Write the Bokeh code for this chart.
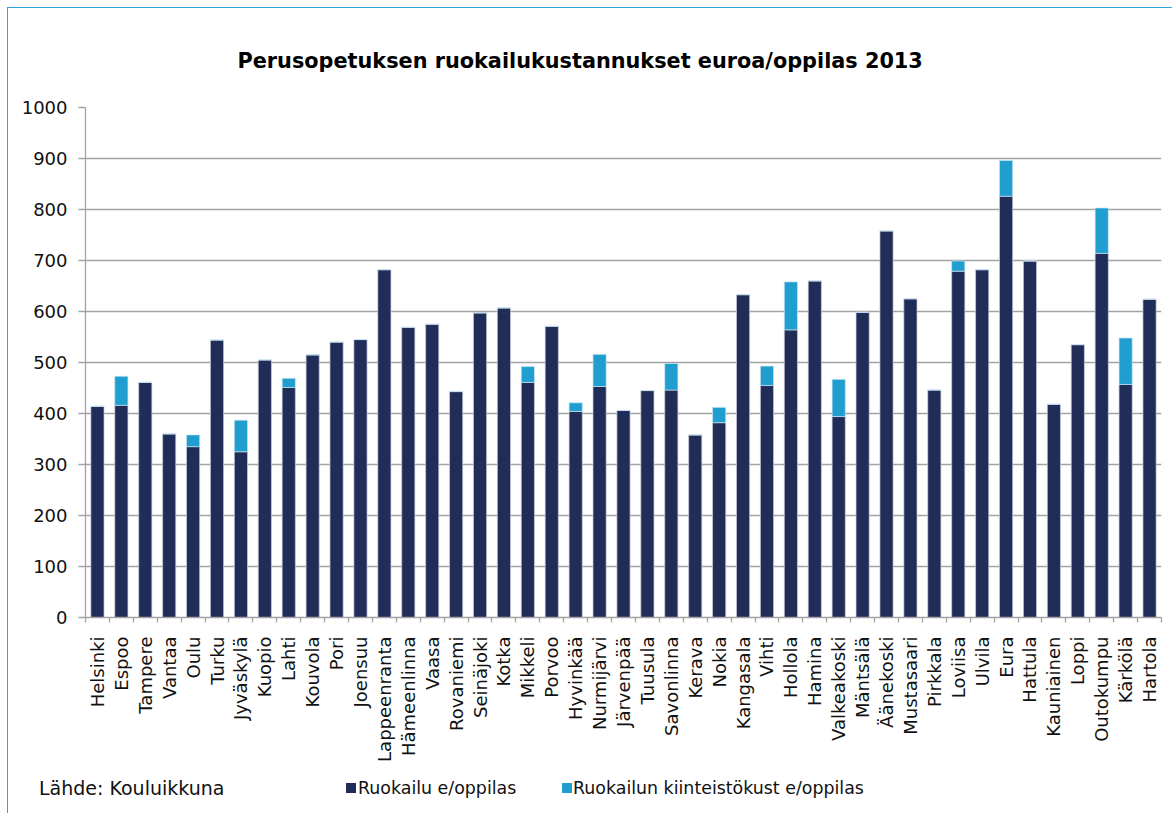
import math
from bokeh.plotting import figure
from bokeh.layouts import column, row
from bokeh.models import (ColumnDataSource, Range1d, FixedTicker, CustomJSTickFormatter,
                          Title, Spacer, Div)
from bokeh.embed import file_html
from bokeh.resources import INLINE

cities = ["Helsinki", "Espoo", "Tampere", "Vantaa", "Oulu", "Turku", "Jyväskylä", "Kuopio",
          "Lahti", "Kouvola", "Pori", "Joensuu", "Lappeenranta", "Hämeenlinna", "Vaasa",
          "Rovaniemi", "Seinäjoki", "Kotka", "Mikkeli", "Porvoo", "Hyvinkää", "Nurmijärvi",
          "Järvenpää", "Tuusula", "Savonlinna", "Kerava", "Nokia", "Kangasala", "Vihti",
          "Hollola", "Hamina", "Valkeakoski", "Mäntsälä", "Äänekoski", "Mustasaari",
          "Pirkkala", "Loviisa", "Ulvila", "Eura", "Hattula", "Kauniainen", "Loppi",
          "Outokumpu", "Kärkölä", "Hartola"]

# Ruokailu e/oppilas
ruokailu = [414, 416, 461, 360, 335, 544, 325, 505, 451, 515, 540, 545, 682, 569, 575,
            443, 597, 607, 461, 571, 404, 453, 406, 445, 446, 358, 382, 633, 455,
            564, 660, 394, 598, 758, 625, 446, 679, 682, 826, 699, 418, 535, 714, 457, 624]

# Ruokailun kiinteistökust e/oppilas
kiinteisto = [0, 57, 0, 0, 23, 0, 62, 0, 18, 0, 0, 0, 0, 0, 0,
              0, 1, 0, 31, 0, 17, 63, 0, 0, 52, 0, 30, 0, 38,
              94, 0, 73, 1, 0, 0, 0, 20, 0, 70, 0, 0, 0, 89, 91, 0]

y_ticks = [0, 100, 200, 300, 400, 500, 600, 700, 800, 900, 1000]

title_text = "Perusopetuksen ruokailukustannukset euroa/oppilas 2013"
source_text = "Lähde: Kouluikkuna"
series_names = ["Ruokailu e/oppilas", "Ruokailun kiinteistökust e/oppilas"]

DARK = "#212d59"
LIGHT = "#1f9ecf"
GRID = "#a3a3a3"
FRAME = "#2aa6e0"
FONT = "DejaVu Sans"

n = len(cities)
xs = [i + 0.5 for i in range(n)]
totals = [a + b for a, b in zip(ruokailu, kiinteisto)]
src = ColumnDataSource(dict(x=xs, dark=ruokailu, light_top=totals))

W, H = 1165, 757
p = figure(width=W, height=H, output_backend="svg", toolbar_location=None,
           x_range=Range1d(0, n), y_range=Range1d(0, 1000),
           min_border_left=77, min_border_right=12, min_border_top=99, min_border_bottom=148)
p.styles = {"border-top": f"1px solid {FRAME}", "border-left": f"1px solid {FRAME}"}
p.outline_line_color = None
p.background_fill_color = "white"
p.border_fill_color = "white"

r1 = p.vbar(x="x", width=0.55, bottom=0, top="dark", source=src,
            fill_color=DARK, line_color="#c9cdd8", line_width=0.7)
r2 = p.vbar(x="x", width=0.55, bottom="dark", top="light_top", source=src,
            fill_color=LIGHT, line_color="#c9e4f2", line_width=0.7)

# grid
p.xgrid.visible = False
p.ygrid.grid_line_color = GRID
p.ygrid.grid_line_width = 1.3
p.ygrid.ticker = FixedTicker(ticks=y_ticks)

# y axis
p.yaxis.ticker = FixedTicker(ticks=y_ticks)
p.yaxis.axis_line_color = GRID
p.yaxis.axis_line_width = 1.3
p.yaxis.major_tick_line_color = GRID
p.yaxis.major_tick_line_width = 1.3
p.yaxis.major_tick_out = 7
p.yaxis.major_tick_in = 0
p.yaxis.minor_tick_line_color = None
p.yaxis.major_label_standoff = 11
p.yaxis.major_label_text_font = FONT
p.yaxis.major_label_text_font_size = "18px"
p.yaxis.major_label_text_color = "#111111"

# x axis: labels at centres, ticks at category boundaries (minor ticks)
p.xaxis.ticker = FixedTicker(ticks=xs, minor_ticks=list(range(n + 1)))
p.xaxis.formatter = CustomJSTickFormatter(args=dict(names=cities),
                                          code="return names[Math.floor(tick)];")
p.xaxis.major_label_orientation = math.pi / 2
p.xaxis.axis_line_color = GRID
p.xaxis.axis_line_width = 1.3
p.xaxis.major_tick_line_color = None
p.xaxis.major_tick_out = 0
p.xaxis.major_tick_in = 0
p.xaxis.minor_tick_line_color = GRID
p.xaxis.minor_tick_line_width = 1.3
p.xaxis.minor_tick_out = 5
p.xaxis.minor_tick_in = 0
p.xaxis.major_label_standoff = 14
p.xaxis.major_label_text_font = FONT
p.xaxis.major_label_text_font_size = "18px"
p.xaxis.major_label_text_color = "#111111"

# title (above)
p.add_layout(Title(text=title_text, align="left", offset=152, standoff=69,
                   text_font=FONT, text_font_style="bold", text_font_size="20.8px",
                   text_color="#000000"), "above")

# bottom row: source + legend
def sq(left, color):
    return (f'<span style="position:absolute;left:{left}px;top:19px;width:10px;height:10px;'
            f'background:{color}"></span>')

def txt(left, text, size):
    return (f'<span style="position:absolute;left:{left}px;top:13px;font-size:{size}px;'
            f'line-height:22px;white-space:nowrap">{text}</span>')

html = (f'<div style="position:relative;width:{W}px;height:49px;font-family:\'DejaVu Sans\';'
        f'color:#111111">'
        + txt(31, source_text, 19)
        + sq(338, DARK) + txt(350, series_names[0], 17.4)
        + sq(554, LIGHT) + txt(565, series_names[1], 17.4)
        + '</div>')
bottom = Div(text=html, width=W, height=49, margin=0,
             styles={"border-left": f"1px solid {FRAME}"})

layout = column(Spacer(height=7), row(Spacer(width=7), column(p, bottom, spacing=0)), spacing=0)
open("out.html", "w").write(file_html(layout, INLINE))
